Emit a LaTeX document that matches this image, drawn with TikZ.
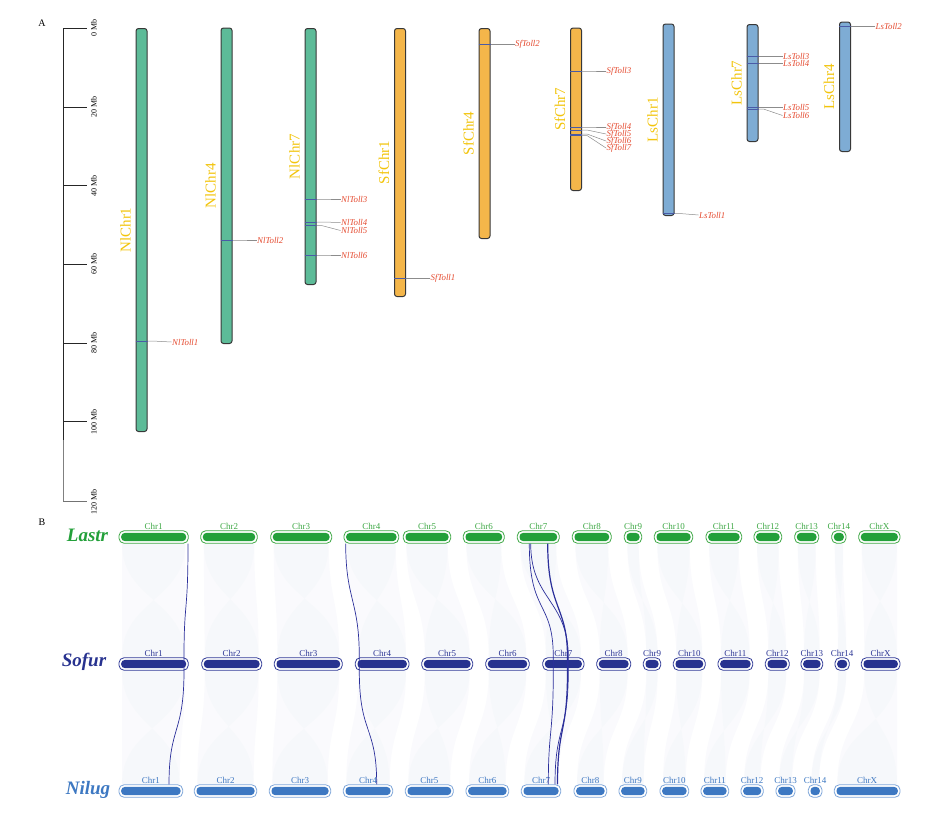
\documentclass[tikz,border=0pt]{standalone}
\usepackage{fontspec}
\setmainfont{Liberation Serif}
\usetikzlibrary{calc}
\definecolor{nlgreen}{HTML}{5DBB98}
\definecolor{sforange}{HTML}{F4B64A}
\definecolor{lsblue}{HTML}{7EACD4}
\definecolor{goldlab}{HTML}{F2C40C}
\definecolor{genered}{HTML}{E4492E}
\definecolor{markc}{HTML}{4A5BA6}
\definecolor{lgline}{HTML}{3EA845}
\definecolor{lgfill}{HTML}{23A03A}
\definecolor{snline}{HTML}{2E3896}
\definecolor{snfill}{HTML}{27328F}
\definecolor{nbline}{HTML}{7DA5D9}
\definecolor{nbfill}{HTML}{3D78C2}
\definecolor{ribbon}{HTML}{F0F2F8}
\definecolor{linkc}{HTML}{2B2F9A}
\begin{document}
\begin{tikzpicture}[x=1pt,y=-1pt,
  chrA/.style={draw=black!78, line width=1pt, rounded corners=2.5pt, minimum width=11pt, inner sep=0pt, anchor=north west},
  chrlab/.style={rotate=90, text=goldlab, font=\fontsize{15}{15}\selectfont, inner sep=0pt},
  genelab/.style={text=genered, font=\itshape\fontsize{8.8}{9}\selectfont, anchor=west, inner sep=0.5pt},
  glink/.style={draw=black!45, line width=0.5pt},
  gmark/.style={draw=markc, line width=0.7pt},
  ticklab/.style={rotate=90, font=\fontsize{8}{8}\selectfont, inner sep=0pt},
  chrB/.style={line width=0.8pt, rounded corners=5pt, minimum height=12.5pt, inner sep=0pt},
  chrBlab/.style={font=\fontsize{9}{9}\selectfont, anchor=south, inner sep=1pt},
  species/.style={font=\bfseries\itshape\fontsize{19}{19}\selectfont, inner sep=0pt},
  rib/.style={fill=ribbon, fill opacity=0.35},
  tlink/.style={draw=linkc, line width=0.7pt},
  tlinkb/.style={draw=linkc, line width=1.2pt},
  panel/.style={font=\fontsize{10}{10}\selectfont, inner sep=0pt}
]
\useasboundingbox (0,0) rectangle (947,814);

% ---------------- Panel A ----------------
\node[panel] (pA) at (42,23) {A};

% axis
\draw[line width=0.8pt, black!85] (63.3,28.3) -- (63.3,440);
\draw[line width=0.8pt, black!50] (63.3,440) -- (63.3,501.7);
\foreach \v [count=\i from 0] in {0,20,40,60,80,100} {
  \draw[line width=0.8pt, black!85] (63.3,{28.3+3.933*\v}) -- (86.7,{28.3+3.933*\v});
  \node[ticklab] (tk\i) at (94,{28.3+3.933*\v}) {\v\ Mb};
}
\draw[line width=1pt, black!55] (63.3,501.7) -- (86.7,501.7);
\node[ticklab] (tk6) at (94,501.7) {120 Mb};

\newcommand\ChrA[6]{%
  \node[chrA, fill=#5, minimum height={#4-#3}] (#1) at (#2,#3) {};
  \node[chrlab] (#1lab) at ($(#1.west)+(-10,0)$) {#6};
}
\newcommand\GeneA[4]{% chr, mark y, label y, name
  \draw[gmark] (#1.west |- 0,#2) -- (#1.east |- 0,#2);
  \node[genelab] (#4) at ($(#1.east |- 0,#3)+(24,0)$) {#4};
  \draw[glink] (#1.east |- 0,#2) -- ++(5,0) -- (#4.west);
}

\ChrA{nl1}{135.5}{28}{431}{nlgreen}{NlChr1}
\ChrA{nl4}{220.5}{27.5}{343}{nlgreen}{NlChr4}
\ChrA{nl7}{304.5}{28}{284}{nlgreen}{NlChr7}
\ChrA{sf1}{394}{28}{296}{sforange}{SfChr1}
\ChrA{sf4}{478.5}{28}{238}{sforange}{SfChr4}
\ChrA{sf7}{570}{27.5}{190}{sforange}{SfChr7}
\ChrA{ls1}{662.5}{23.5}{215}{lsblue}{LsChr1}
\ChrA{ls7}{746.5}{24}{141}{lsblue}{LsChr7}
\ChrA{ls4}{839}{21.5}{151}{lsblue}{LsChr4}

\GeneA{nl1}{341}{342}{NlToll1}
\GeneA{nl4}{240}{240}{NlToll2}
\GeneA{nl7}{199}{199}{NlToll3}
\GeneA{nl7}{222}{222.5}{NlToll4}
\GeneA{nl7}{225.5}{230.5}{NlToll5}
\GeneA{nl7}{255}{255}{NlToll6}
\GeneA{sf1}{278.5}{278.5}{SfToll1}
\GeneA{sf4}{44.5}{44.5}{SfToll2}
\GeneA{sf7}{71}{71}{SfToll3}
\GeneA{sf7}{127}{127}{SfToll4}
\GeneA{sf7}{130}{134}{SfToll5}
\GeneA{sf7}{134}{141}{SfToll6}
\GeneA{sf7}{135.5}{148}{SfToll7}
\GeneA{ls1}{213.5}{215}{LsToll1}
\GeneA{ls4}{26.5}{26.5}{LsToll2}
\GeneA{ls7}{56.5}{56.5}{LsToll3}
\GeneA{ls7}{63.5}{63.5}{LsToll4}
\GeneA{ls7}{107.5}{107.5}{LsToll5}
\GeneA{ls7}{109}{115.5}{LsToll6}

% ---------------- Panel B ----------------
\node[panel] (pB) at (42,522) {B};

% synteny ribbons Lastr - Sofur
\foreach \a/\b/\c/\d in {119/188.3/119/188.3, 200.7/257.3/201.7/261.7, 270.7/331.7/274.3/342.3,
  344/398.7/355.3/409, 403.3/450.7/421.7/472.7, 463.3/504.3/485.7/529.3, 517.3/559.3/542.7/584,
  572.3/611.3/596.7/630.7, 624.3/641.7/643.3/660.7, 654.3/692.7/673.3/705.3, 706/741.7/718/752.7,
  754/781.7/765.3/789.3, 794.7/818.7/801/822.7, 831.7/846/835/849.3, 858.7/900/861.3/900} {
  \fill[rib] (\a+3,544) .. controls (\a+3,600) and (\c+3,600) .. (\c+3,657)
    -- (\d-3,657) .. controls (\d-3,600) and (\b-3,600) .. (\b-3,544) -- cycle;
  \fill[rib] (\a+3,544) .. controls (\a+3,600) and (\d-3,600) .. (\d-3,657)
    -- (\c+3,657) .. controls (\c+3,600) and (\b-3,600) .. (\b-3,544) -- cycle;
}
% synteny ribbons Sofur - Nilug
\foreach \a/\b/\c/\d in {119/188.3/119/182.7, 201.7/261.7/194.3/256.7, 274.3/342.3/269.3/330.7,
  355.3/409/343.3/392.7, 421.7/472.7/405.3/453.3, 485.7/529.3/466/508.7, 542.7/584/521.3/560.7,
  596.7/630.7/574/606.7, 643.3/660.7/619/646.7, 673.3/705.3/660/688.7, 718/752.7/701/728.7,
  765.3/789.3/741/763.3, 801/822.7/776/795, 835/849.3/808.3/822, 861.3/900/834.3/900} {
  \fill[rib] (\a+3,671) .. controls (\a+3,727) and (\c+3,727) .. (\c+3,784)
    -- (\d-3,784) .. controls (\d-3,727) and (\b-3,727) .. (\b-3,671) -- cycle;
  \fill[rib] (\a+3,671) .. controls (\a+3,727) and (\d-3,727) .. (\d-3,784)
    -- (\c+3,784) .. controls (\c+3,727) and (\b-3,727) .. (\b-3,671) -- cycle;
}

% chromosome rows
\foreach \n/\a/\b in {1/119/188.3, 2/200.7/257.3, 3/270.7/331.7, 4/344/398.7, 5/403.3/450.7,
  6/463.3/504.3, 7/517.3/559.3, 8/572.3/611.3, 9/624.3/641.7, 10/654.3/692.7, 11/706/741.7,
  12/754/781.7, 13/794.7/818.7, 14/831.7/846, X/858.7/900} {
  \node[chrB, draw=lgline, fill=white, minimum width={\b-\a}] (L\n) at ({(\a+\b)/2},537) {};
  \fill[lgfill, rounded corners=3.5pt] ($(L\n.south west)+(2.6,-2.6)$) rectangle ($(L\n.north east)+(-2.6,2.6)$);
  \node[chrBlab, text=lgline] (L\n lab) at (L\n.north) {Chr\n};
}
\foreach \n/\a/\b in {1/119/188.3, 2/201.7/261.7, 3/274.3/342.3, 4/355.3/409, 5/421.7/472.7,
  6/485.7/529.3, 7/542.7/584, 8/596.7/630.7, 9/643.3/660.7, 10/673.3/705.3, 11/718/752.7,
  12/765.3/789.3, 13/801/822.7, 14/835/849.3, X/861.3/900} {
  \node[chrB, draw=snline, fill=white, minimum width={\b-\a}] (S\n) at ({(\a+\b)/2},664) {};
  \fill[snfill, rounded corners=3.5pt] ($(S\n.south west)+(2.6,-2.6)$) rectangle ($(S\n.north east)+(-2.6,2.6)$);
  \node[chrBlab, text=snline] (S\n lab) at (S\n.north) {Chr\n};
}
\foreach \n/\a/\b in {1/119/182.7, 2/194.3/256.7, 3/269.3/330.7, 4/343.3/392.7, 5/405.3/453.3,
  6/466/508.7, 7/521.3/560.7, 8/574/606.7, 9/619/646.7, 10/660/688.7, 11/701/728.7,
  12/741/763.3, 13/776/795, 14/808.3/822, X/834.3/900} {
  \node[chrB, draw=nbline, fill=white, minimum width={\b-\a}] (N\n) at ({(\a+\b)/2},791) {};
  \fill[nbfill, rounded corners=3.5pt] ($(N\n.south west)+(2.6,-2.6)$) rectangle ($(N\n.north east)+(-2.6,2.6)$);
  \node[chrBlab, text=nbfill] (N\n lab) at (N\n.north) {Chr\n};
}

\node[species, text=lgfill] (lastr) at (87.5,535) {Lastr};
\node[species, text=snfill] (sofur) at (84,662) {Sofur};
\node[species, text=nbfill] (nilug) at (88,790) {Nilug};

% Toll gene links
\draw[tlink] (L1.south -| 188,0) .. controls (188,615) and (184,600) .. (S1.north -| 184,0)
  -- (S1.south -| 184,0) .. controls (184,735) and (169,725) .. (N1.north -| 169,0);
\draw[tlink] (L4.south -| 345.7,0) .. controls (345.7,600) and (359.3,600) .. (S4.north -| 359.3,0)
  -- (S4.south -| 359.3,0) .. controls (359.3,735) and (376.7,725) .. (N4.north -| 376.7,0);
\draw[tlink] (L7.south -| 529.3,0) .. controls (529.3,615) and (553.3,600) .. (S7.north -| 553.3,0)
  -- (S7.south -| 553.3,0) .. controls (553.3,735) and (548.3,730) .. (N7.north -| 548.3,0);
\draw[tlink] (L7.south -| 530.7,0) .. controls (530.7,600) and (568.3,600) .. (S7.north -| 568.3,0)
  -- (S7.south -| 568.3,0) .. controls (568.3,735) and (555,725) .. (N7.north -| 555,0);
\draw[tlinkb] (L7.south -| 547.7,0) .. controls (547.7,610) and (567.5,605) .. (S7.north -| 567.5,0)
  -- (S7.south -| 567.5,0) .. controls (567.5,735) and (557.5,725) .. (N7.north -| 557.5,0);
\end{tikzpicture}
\end{document}
